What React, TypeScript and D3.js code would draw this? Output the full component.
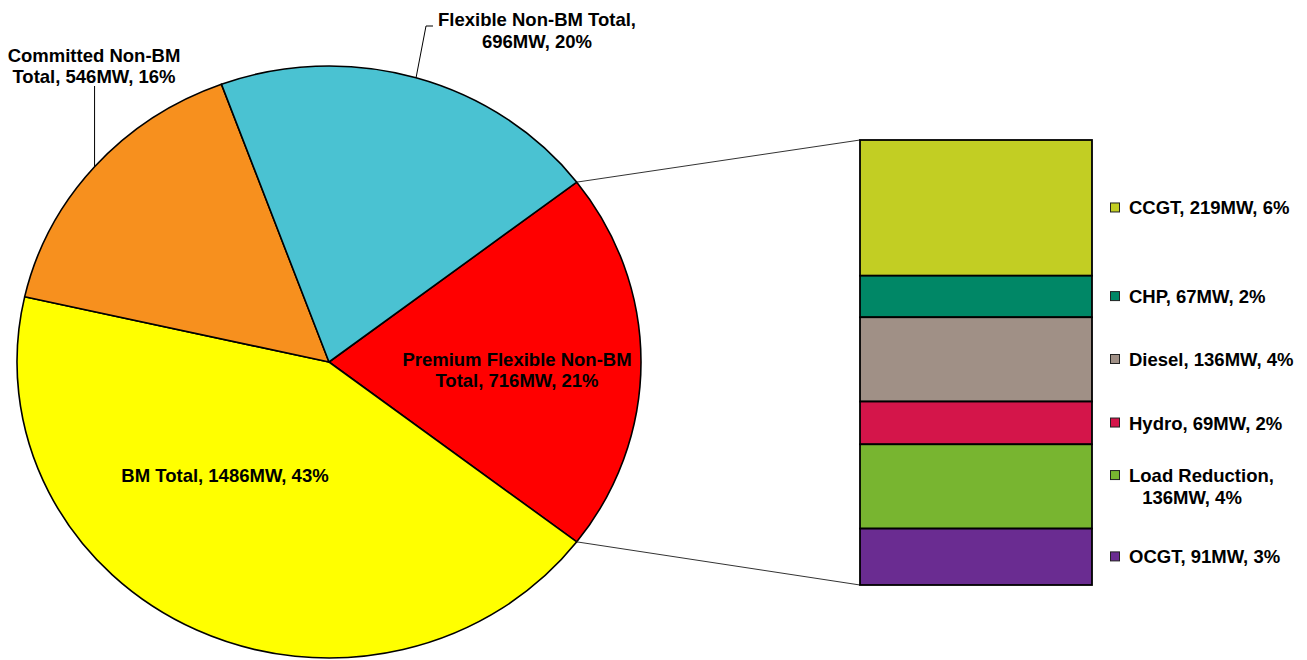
import React from "react";
import * as d3 from "d3";

// ---- data ----
const pieNames = ["Premium Flexible Non-BM Total", "BM Total", "Committed Non-BM Total", "Flexible Non-BM Total"];
const pieValues = [716, 1486, 546, 696];
const piePercents = [21, 43, 16, 20];
const pieColors = ["#FF0000", "#FFFF00", "#F7901E", "#4AC2D2"];

const barNames = ["CCGT", "CHP", "Diesel", "Hydro", "Load Reduction", "OCGT"];
const barValues = [219, 67, 136, 69, 136, 91];
const barPercents = [6, 2, 4, 2, 4, 3];
const barColors = ["#C2CE23", "#008766", "#A09086", "#D4154A", "#78B530", "#6A2C91"];

const FONT = "'Liberation Sans', Arial, Helvetica, sans-serif";

export default function App() {
  const W = 1307, H = 660;
  const cx = 329, cy = 362, rx = 312, ry = 296;

  // pie: first slice (the one split out) centred on 3 o'clock
  const total = d3.sum(pieValues);
  const firstSpan = (pieValues[0] / total) * 2 * Math.PI;
  const start = Math.PI / 2 - firstSpan / 2;
  const pie = d3.pie<number>().sort(null).startAngle(start).endAngle(start + 2 * Math.PI);
  const arcs = pie(pieValues);
  const arc = d3.arc<d3.PieArcDatum<number>>().innerRadius(0).outerRadius(ry);
  const pt = (a: number, k = 1) => [cx + rx * k * Math.sin(a), cy - ry * k * Math.cos(a)];

  // bar
  const barX0 = 860, barX1 = 1092, barTop = 140, barBot = 585;
  const barTotal = d3.sum(barValues);
  const yS = d3.scaleLinear().domain([0, barTotal]).range([barTop, barBot]);
  const cum = d3.cumsum(barValues);
  const segs = barValues.map((v, i) => ({ y0: yS(cum[i] - v), y1: yS(cum[i]), i }));

  const topJoin = pt(arcs[0].startAngle);
  const botJoin = pt(arcs[0].endAngle);

  const fs = 18.5;
  const txt = { fontFamily: FONT, fontSize: fs, fontWeight: 700, fill: "#000" } as const;

  const mid = (d: d3.PieArcDatum<number>) => (d.startAngle + d.endAngle) / 2;
  const cmPt = pt(mid(arcs[2]));
  const flPt = pt(mid(arcs[3]));

  const barLabels = barNames.map((n, i) => {
    const lines = n === "Load Reduction"
      ? [`${n},`, `${barValues[i]}MW, ${barPercents[i]}%`]
      : [`${n}, ${barValues[i]}MW, ${barPercents[i]}%`];
    return lines;
  });

  return (
    <svg width={W} height={H} style={{ position: "absolute", left: 0, top: 0, background: "#fff" }}>
      <g transform={`translate(${cx},${cy}) scale(${rx / ry},1)`}>
        {arcs.map((d, i) => (
          <path key={i} d={arc(d) || ""} fill={pieColors[i]} stroke="#000" strokeWidth={1.6}
            vectorEffect="non-scaling-stroke" strokeLinejoin="round" />
        ))}
      </g>

      {/* connector lines */}
      <line x1={topJoin[0]} y1={topJoin[1]} x2={barX0} y2={barTop} stroke="#333" strokeWidth={1} />
      <line x1={botJoin[0]} y1={botJoin[1]} x2={barX0} y2={barBot} stroke="#333" strokeWidth={1} />

      {/* bar of pie */}
      {segs.map((s) => (
        <rect key={s.i} x={barX0} y={s.y0} width={barX1 - barX0} height={s.y1 - s.y0}
          fill={barColors[s.i]} stroke="#000" strokeWidth={1.8} />
      ))}

      {/* bar labels */}
      {segs.map((s) => {
        const lines = barLabels[s.i];
        const c = (s.y0 + s.y1) / 2;
        const firstBase = c - ((lines.length - 1) * 22) / 2 + 6.6;
        return (
          <g key={s.i}>
            <rect x={1110.5} y={firstBase - 11.5} width={9} height={9} fill={barColors[s.i]} stroke="#222" strokeWidth={1} />
            {lines.map((l, j) => (
              <text key={j} x={j === 0 ? 1129 : 1192} y={firstBase + j * 22} textAnchor={j === 0 ? "start" : "middle"} style={txt}>{l}</text>
            ))}
          </g>
        );
      })}

      {/* pie labels */}
      <text x={517} y={366} textAnchor="middle" style={txt}>Premium Flexible Non-BM</text>
      <text x={517} y={387} textAnchor="middle" style={txt}>{`Total, ${pieValues[0]}MW, ${piePercents[0]}%`}</text>

      <text x={225} y={482} textAnchor="middle" style={txt}>{`${pieNames[1]}, ${pieValues[1]}MW, ${piePercents[1]}%`}</text>

      <path d={`M${cmPt[0]},${cmPt[1]} L${cmPt[0]},86`} stroke="#000" strokeWidth={1} fill="none" />
      <text x={94} y={62} textAnchor="middle" style={txt}>Committed Non-BM</text>
      <text x={94} y={83} textAnchor="middle" style={txt}>{`Total, ${pieValues[2]}MW, ${piePercents[2]}%`}</text>

      <path d={`M${flPt[0]},${flPt[1]} L426,26 L433,26`} stroke="#000" strokeWidth={1} fill="none" />
      <text x={537} y={26} textAnchor="middle" style={txt}>Flexible Non-BM Total,</text>
      <text x={537} y={48} textAnchor="middle" style={txt}>{`${pieValues[3]}MW, ${piePercents[3]}%`}</text>
    </svg>
  );
}
